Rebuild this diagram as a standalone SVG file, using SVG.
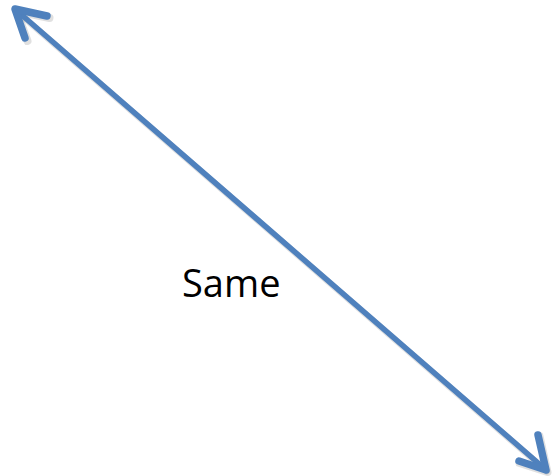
<svg xmlns="http://www.w3.org/2000/svg" width="552" height="476" viewBox="0 0 552 476">
<defs>
<style>
.arrow{stroke:#4F81BD;stroke-width:5.5;fill:none;stroke-linecap:round;stroke-linejoin:round}
.head{stroke:#4F81BD;stroke-width:7.5;fill:none;stroke-linecap:round;stroke-linejoin:round}
.shadow{stroke:#000;stroke-opacity:0.12;stroke-width:6.5;fill:none;stroke-linecap:round;stroke-linejoin:round}
.label{font-family:"Open Sans","Liberation Sans",sans-serif;font-size:38px;fill:#000}
</style>
</defs>
<rect width="552" height="476" fill="#fff"/>
<g id="connectors">
<g transform="translate(1.5,2)">
<line class="shadow" x1="16" y1="10" x2="545" y2="469"/>
<polyline class="shadow" points="48,16 15,9 26,39" style="stroke-width:8"/>
<polyline class="shadow" points="538,434 546,470 518,461" style="stroke-width:8"/>
</g>
<line class="arrow" x1="16" y1="10" x2="545" y2="469"/>
<polyline class="head" points="47,16 15,9 25,38"/>
<polyline class="head" points="538,435 546,470 519,461"/>
</g>
<g id="label-same">
<text class="label" x="182" y="297">Same</text>
</g>
</svg>
